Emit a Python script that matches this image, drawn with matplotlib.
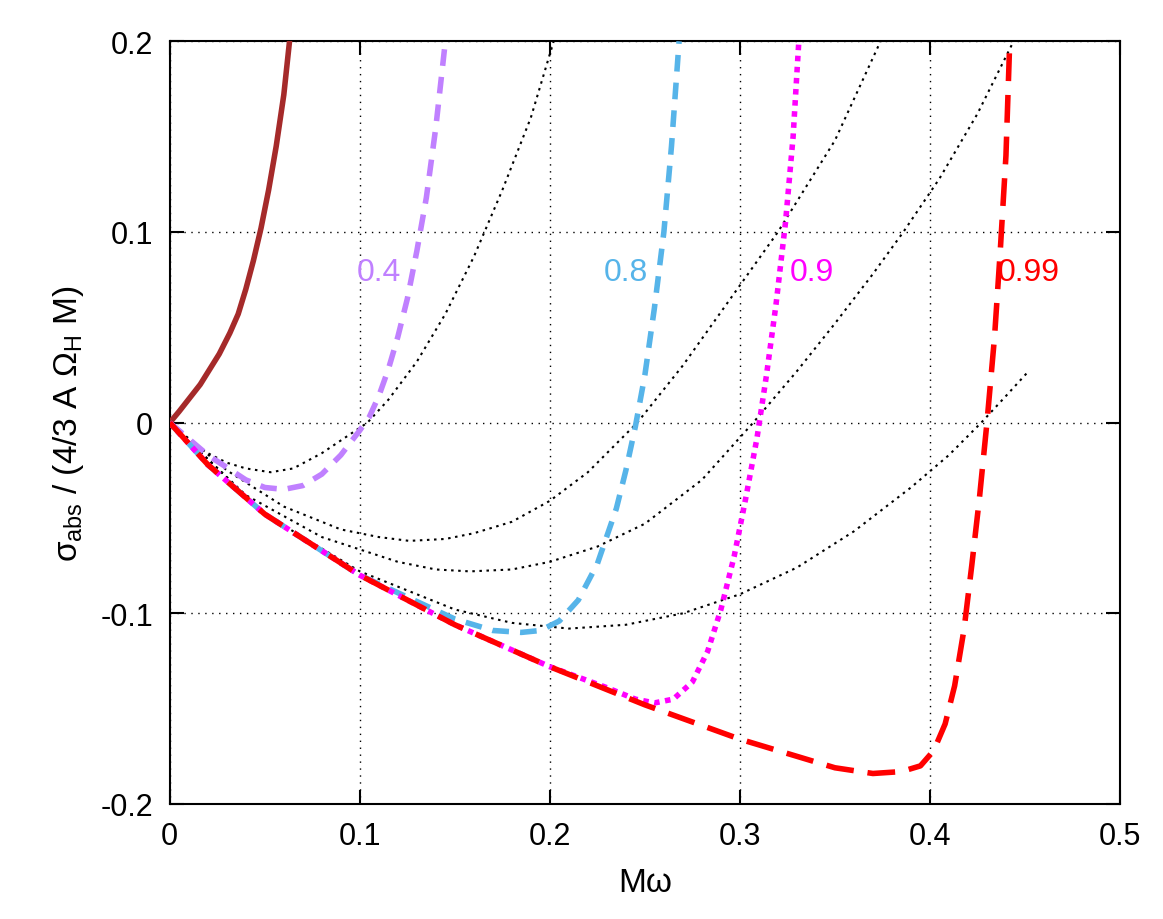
import matplotlib
matplotlib.use("Agg")
import matplotlib.pyplot as plt
plt.rcParams["font.family"] = "Liberation Sans"
plt.rcParams["mathtext.fontset"] = "custom"
plt.rcParams["mathtext.rm"] = "Liberation Sans"
plt.rcParams["mathtext.it"] = "Liberation Sans"

brown_x = [0, 0.005, 0.0105, 0.016, 0.021, 0.026, 0.0316, 0.036, 0.04, 0.044, 0.048, 0.052, 0.056, 0.06, 0.063]
brown_y = [0, 0.006, 0.013, 0.02, 0.028, 0.036, 0.047, 0.057, 0.07, 0.085, 0.102, 0.122, 0.145, 0.172, 0.2]
a04_x = [0, 0.02, 0.04, 0.05, 0.06, 0.07, 0.08, 0.09, 0.1, 0.105, 0.11, 0.115, 0.12, 0.125, 0.13, 0.135, 0.14, 0.145]
a04_y = [0, -0.017, -0.03, -0.034, -0.035, -0.033, -0.027, -0.017, -0.004, 0.003, 0.014, 0.028, 0.045, 0.065, 0.09, 0.118, 0.155, 0.2]
a08_x = [0, 0.02, 0.05, 0.1, 0.15, 0.17, 0.185, 0.195, 0.205, 0.215, 0.225, 0.235, 0.24, 0.245, 0.25, 0.255, 0.26, 0.264, 0.268]
a08_y = [0, -0.022, -0.048, -0.08, -0.103, -0.109, -0.11, -0.109, -0.104, -0.093, -0.074, -0.045, -0.025, -0.002, 0.025, 0.06, 0.1, 0.145, 0.2]
a09_x = [0, 0.02, 0.05, 0.1, 0.15, 0.2, 0.23, 0.245, 0.255, 0.265, 0.275, 0.283, 0.29, 0.297, 0.303, 0.309, 0.314, 0.319, 0.324, 0.328, 0.331]
a09_y = [0, -0.022, -0.048, -0.08, -0.106, -0.128, -0.139, -0.145, -0.147, -0.145, -0.136, -0.12, -0.098, -0.07, -0.04, -0.008, 0.025, 0.062, 0.105, 0.15, 0.2]
a099_x = [0, 0.02, 0.05, 0.1, 0.15, 0.2, 0.25, 0.3, 0.35, 0.37, 0.385, 0.395, 0.402, 0.408, 0.413, 0.418, 0.422, 0.426, 0.43, 0.434, 0.437, 0.44, 0.442]
a099_y = [0, -0.022, -0.048, -0.08, -0.106, -0.128, -0.148, -0.166, -0.181, -0.184, -0.183, -0.18, -0.172, -0.158, -0.138, -0.108, -0.075, -0.04, 0, 0.045, 0.09, 0.14, 0.2]
k1_x = [0, 0.01, 0.02, 0.03, 0.04, 0.053, 0.065, 0.08, 0.092, 0.104, 0.115, 0.13, 0.145, 0.16, 0.175, 0.19, 0.202]
k1_y = [0, -0.009, -0.016, -0.021, -0.024, -0.026, -0.024, -0.016, -0.008, 0, 0.012, 0.032, 0.057, 0.087, 0.122, 0.16, 0.2]
k2_x = [0, 0.03, 0.06, 0.09, 0.11, 0.126, 0.145, 0.16, 0.18, 0.2, 0.22, 0.246, 0.27, 0.3, 0.32, 0.35, 0.374]
k2_y = [0, -0.025, -0.044, -0.056, -0.06, -0.062, -0.061, -0.058, -0.052, -0.041, -0.026, 0, 0.03, 0.072, 0.1, 0.148, 0.2]
k3_x = [0, 0.04, 0.08, 0.12, 0.14, 0.158, 0.18, 0.2, 0.225, 0.25, 0.28, 0.307, 0.33, 0.35, 0.37, 0.386, 0.405, 0.425, 0.444]
k3_y = [0, -0.038, -0.06, -0.073, -0.077, -0.078, -0.077, -0.073, -0.065, -0.053, -0.03, 0, 0.027, 0.052, 0.078, 0.1, 0.128, 0.162, 0.2]
k4_x = [0, 0.05, 0.1, 0.15, 0.18, 0.21, 0.24, 0.27, 0.3, 0.33, 0.36, 0.39, 0.41, 0.427, 0.44, 0.451]
k4_y = [0, -0.048, -0.078, -0.098, -0.105, -0.108, -0.106, -0.1, -0.09, -0.076, -0.057, -0.034, -0.017, 0, 0.014, 0.026]
labels = ["0.4", "0.8", "0.9", "0.99"]
label_x = [0.11, 0.24, 0.338, 0.452]
label_y = [0.079, 0.079, 0.079, 0.079]

fig = plt.figure(figsize=(11.63, 9.2), dpi=100)
ax = fig.add_axes([0.146, 0.125, 0.817, 0.829])
for kx, ky in [(k1_x, k1_y), (k2_x, k2_y), (k3_x, k3_y), (k4_x, k4_y)]:
    ax.plot(kx, ky, color="black", lw=1.5, ls=(0, (1.2, 2.2)), zorder=3)
ax.plot(brown_x, brown_y, color="#a52a2a", lw=4, zorder=4)
ax.plot(a04_x, a04_y, color="#c080ff", lw=4, ls=(0, (3, 2)), zorder=4)
ax.plot(a08_x, a08_y, color="#56b4e9", lw=4, ls=(0, (3, 2)), zorder=4)
ax.plot(a09_x, a09_y, color="#ff00ff", lw=4, ls=(0, (1, 1)), zorder=4)
ax.plot(a099_x, a099_y, color="#ff0000", lw=4, ls=(0, (5, 2.5)), zorder=4)
cols = ["#c080ff", "#56b4e9", "#ff00ff", "#ff0000"]
for t, x, y, c in zip(labels, label_x, label_y, cols):
    ax.text(x, y, t, color=c, fontsize=23, ha="center", va="center", zorder=5)
ax.set_xlim(0, 0.5)
ax.set_ylim(-0.2, 0.2)
ax.set_xticks([0, 0.1, 0.2, 0.3, 0.4, 0.5])
ax.set_xticklabels(["0", "0.1", "0.2", "0.3", "0.4", "0.5"])
ax.set_yticks([-0.2, -0.1, 0, 0.1, 0.2])
ax.set_yticklabels(["-0.2", "-0.1", "0", "0.1", "0.2"])
ax.grid(True, color="black", ls=(0, (1, 4)), lw=1)
ax.tick_params(direction="in", length=10, width=1.5, labelsize=22, pad=12, top=True, right=True)
for s in ax.spines.values():
    s.set_linewidth(1.5)
ax.set_xlabel("Mω", fontsize=24, labelpad=12)
ax.set_ylabel(r"$\sigma_{\rm abs}$ / (4/3 A $\Omega_{\rm H}$ M)", fontsize=24, labelpad=10)
fig.savefig("out.png", dpi=100)
